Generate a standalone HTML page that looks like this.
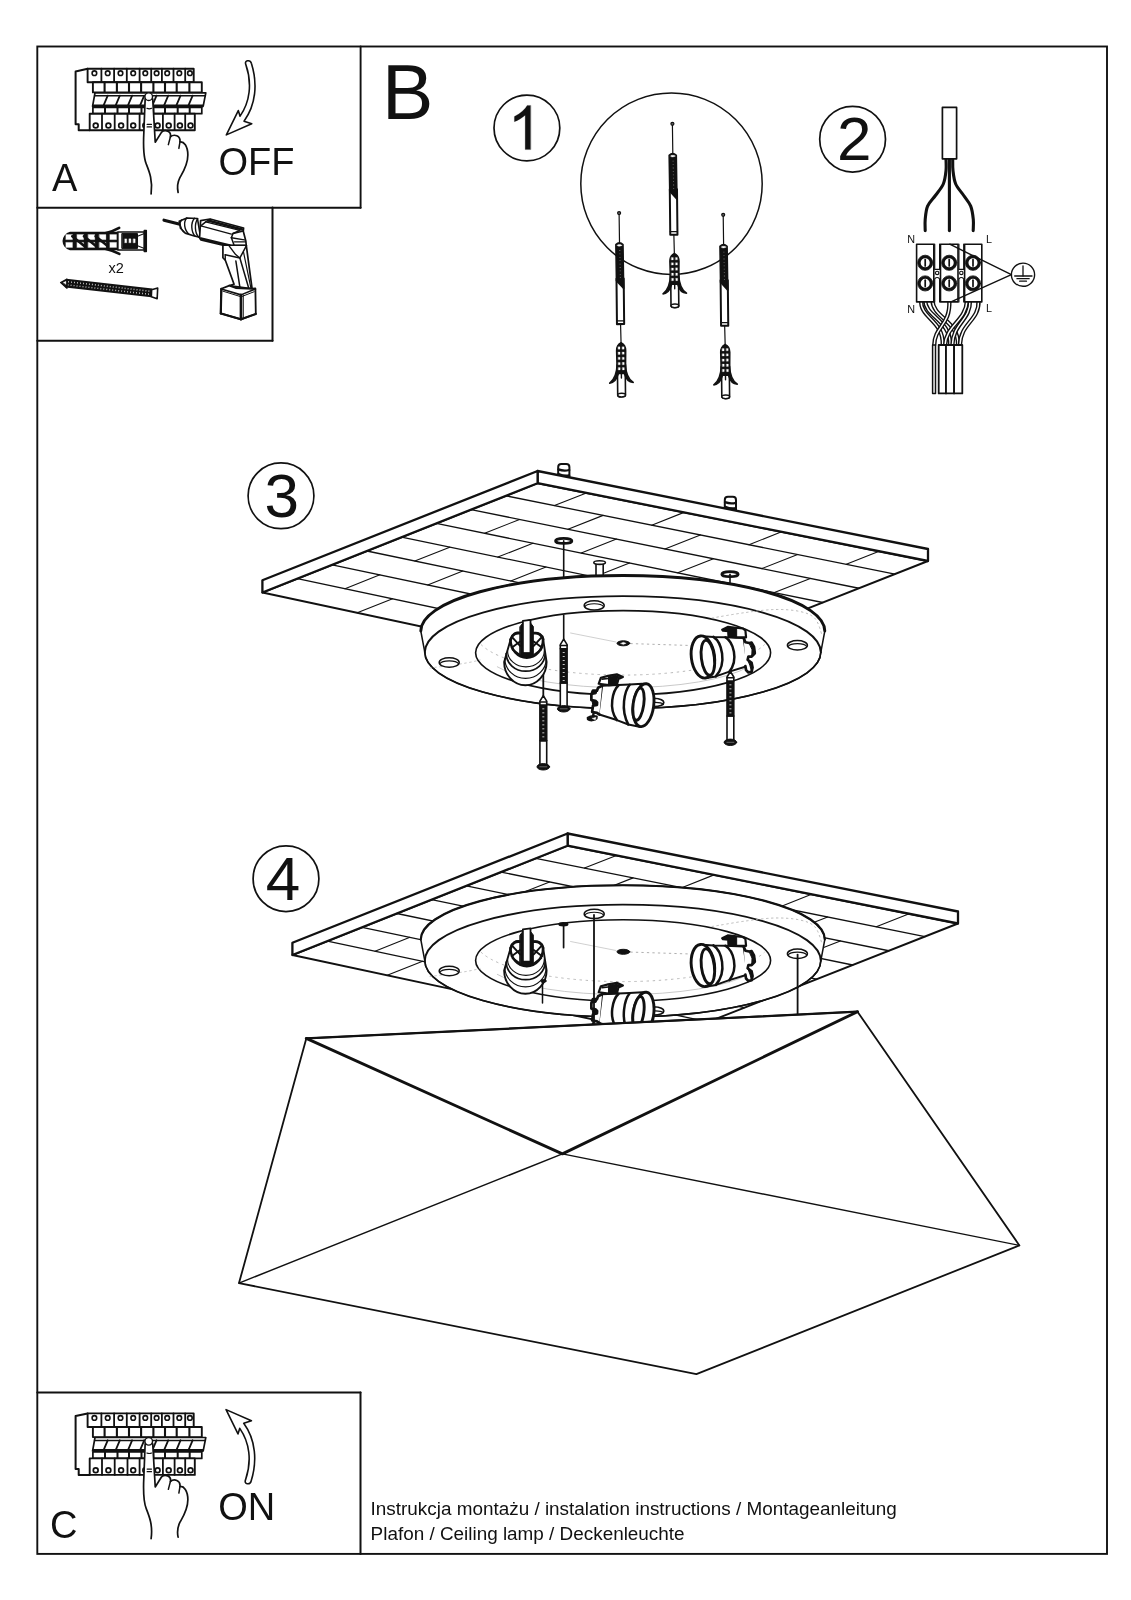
<!DOCTYPE html>
<html><head><meta charset="utf-8"><title>Instrukcja montażu</title>
<style>
html,body{margin:0;padding:0;background:#fff;}
body{width:1131px;height:1600px;overflow:hidden;font-family:"Liberation Sans",sans-serif;}
svg{display:block;}
svg text{font-family:"Liberation Sans",sans-serif;fill:#111;}
</style></head>
<body>
<svg width="1131" height="1600" viewBox="0 0 1131 1600" stroke-linecap="round" stroke-linejoin="round">
<defs><filter id="ga" x="-5%" y="-20%" width="110%" height="140%"><feOffset dx="0" dy="0"/></filter></defs>
<rect x="0" y="0" width="1131" height="1600" fill="#fff"/>
<!-- frame and boxes -->
<rect x="37.30" y="46.50" width="1069.70" height="1507.40" fill="none" stroke="#111" stroke-width="1.9" stroke-linejoin="miter"/>
<line x1="360.60" y1="46.50" x2="360.60" y2="207.70" stroke="#111" stroke-width="1.9" />
<line x1="37.30" y1="207.70" x2="360.60" y2="207.70" stroke="#111" stroke-width="1.9" />
<line x1="272.50" y1="207.60" x2="272.50" y2="340.80" stroke="#111" stroke-width="2.0" />
<line x1="37.30" y1="340.80" x2="272.50" y2="340.80" stroke="#111" stroke-width="2.0" />
<line x1="37.30" y1="1392.60" x2="360.50" y2="1392.60" stroke="#111" stroke-width="2.0" />
<line x1="360.50" y1="1392.60" x2="360.50" y2="1553.90" stroke="#111" stroke-width="2.0" />
<!-- labels -->
<g filter="url(#ga)"><text x="52.00" y="191.00" font-size="38" text-anchor="start" >A</text></g>
<g filter="url(#ga)"><text x="50.10" y="1537.80" font-size="38" text-anchor="start" >C</text></g>
<g filter="url(#ga)"><text x="218.40" y="175.00" font-size="38" text-anchor="start" >OFF</text></g>
<g filter="url(#ga)"><text x="218.20" y="1519.80" font-size="38" text-anchor="start" >ON</text></g>
<g filter="url(#ga)"><text x="381.90" y="119.20" font-size="77" text-anchor="start" >B</text></g>
<g filter="url(#ga)"><text x="108.40" y="272.90" font-size="14.5" text-anchor="start" >x2</text></g>
<circle cx="526.90" cy="128.00" r="32.90" fill="none" stroke="#111" stroke-width="1.7" />
<path d="M530.60,149.60 L525.19,149.60 L525.19,115.16 Q523.24,117.02 520.07,118.88 Q516.91,120.74 514.38,121.67 L514.38,116.45 Q518.92,114.32 522.31,111.28 Q525.71,108.25 527.12,105.40 L530.60,105.40 Z" fill="#111" stroke="#111" stroke-width="0.2" />
<circle cx="852.60" cy="139.20" r="32.90" fill="none" stroke="#111" stroke-width="1.7" />
<g filter="url(#ga)"><text x="837.10" y="160.10" font-size="62" text-anchor="start" >2</text></g>
<circle cx="281.00" cy="495.80" r="32.90" fill="none" stroke="#111" stroke-width="1.7" />
<g filter="url(#ga)"><text x="264.50" y="517.20" font-size="62" text-anchor="start" >3</text></g>
<circle cx="286.00" cy="878.70" r="32.90" fill="none" stroke="#111" stroke-width="1.7" />
<g filter="url(#ga)"><text x="265.70" y="899.50" font-size="62" text-anchor="start" >4</text></g>
<g filter="url(#ga)"><text x="370.60" y="1514.80" font-size="18.9" text-anchor="start" >Instrukcja montażu / instalation instructions / Montageanleitung</text></g>
<g filter="url(#ga)"><text x="370.60" y="1540.00" font-size="18.9" text-anchor="start" >Plafon / Ceiling lamp / Deckenleuchte</text></g>
<!-- box A -->
<g>
<path d="M87.6,68.7 L75.6,71.4 L75.6,124.3 L78.7,124.3 L78.7,130.2 L89.7,130.2" fill="#fff" stroke="#111" stroke-width="2.0" />
<rect x="87.60" y="68.70" width="106.10" height="13.60" fill="#fff" stroke="#111" stroke-width="1.9" />
<line x1="101.40" y1="68.70" x2="101.40" y2="82.30" stroke="#111" stroke-width="1.8" />
<line x1="114.10" y1="68.70" x2="114.10" y2="82.30" stroke="#111" stroke-width="1.8" />
<line x1="126.80" y1="68.70" x2="126.80" y2="82.30" stroke="#111" stroke-width="1.8" />
<line x1="139.60" y1="68.70" x2="139.60" y2="82.30" stroke="#111" stroke-width="1.8" />
<line x1="151.20" y1="68.70" x2="151.20" y2="82.30" stroke="#111" stroke-width="1.8" />
<line x1="161.90" y1="68.70" x2="161.90" y2="82.30" stroke="#111" stroke-width="1.8" />
<line x1="173.50" y1="68.70" x2="173.50" y2="82.30" stroke="#111" stroke-width="1.8" />
<line x1="185.20" y1="68.70" x2="185.20" y2="82.30" stroke="#111" stroke-width="1.8" />
<circle cx="94.40" cy="73.20" r="2.30" fill="none" stroke="#111" stroke-width="1.6" />
<circle cx="107.70" cy="73.20" r="2.30" fill="none" stroke="#111" stroke-width="1.6" />
<circle cx="120.50" cy="73.20" r="2.30" fill="none" stroke="#111" stroke-width="1.6" />
<circle cx="133.20" cy="73.20" r="2.30" fill="none" stroke="#111" stroke-width="1.6" />
<circle cx="145.30" cy="73.20" r="2.30" fill="none" stroke="#111" stroke-width="1.6" />
<circle cx="156.60" cy="73.20" r="2.30" fill="none" stroke="#111" stroke-width="1.6" />
<circle cx="167.20" cy="73.20" r="2.30" fill="none" stroke="#111" stroke-width="1.6" />
<circle cx="179.30" cy="73.20" r="2.30" fill="none" stroke="#111" stroke-width="1.6" />
<circle cx="189.90" cy="73.20" r="2.30" fill="none" stroke="#111" stroke-width="1.6" />
<rect x="92.90" y="82.30" width="108.90" height="10.10" fill="#fff" stroke="#111" stroke-width="1.9" />
<line x1="104.60" y1="82.30" x2="104.60" y2="92.40" stroke="#111" stroke-width="2.1" />
<line x1="116.90" y1="82.30" x2="116.90" y2="92.40" stroke="#111" stroke-width="2.1" />
<line x1="129.00" y1="82.30" x2="129.00" y2="92.40" stroke="#111" stroke-width="2.1" />
<line x1="141.10" y1="82.30" x2="141.10" y2="92.40" stroke="#111" stroke-width="2.1" />
<line x1="153.40" y1="82.30" x2="153.40" y2="92.40" stroke="#111" stroke-width="2.1" />
<line x1="165.00" y1="82.30" x2="165.00" y2="92.40" stroke="#111" stroke-width="2.1" />
<line x1="176.70" y1="82.30" x2="176.70" y2="92.40" stroke="#111" stroke-width="2.1" />
<line x1="189.40" y1="82.30" x2="189.40" y2="92.40" stroke="#111" stroke-width="2.1" />
<path d="M95.00,92.80 L205.80,92.80 L203.20,106.20 L92.60,106.20 Z" fill="#fff" stroke="#111" stroke-width="1.7" />
<line x1="94.60" y1="95.80" x2="205.40" y2="95.80" stroke="#111" stroke-width="1.4" />
<line x1="92.80" y1="105.90" x2="203.20" y2="105.90" stroke="#111" stroke-width="3.0" stroke-linecap="butt"/>
<line x1="107.70" y1="95.60" x2="103.70" y2="105.20" stroke="#111" stroke-width="1.8" />
<line x1="119.80" y1="95.60" x2="115.80" y2="105.20" stroke="#111" stroke-width="1.8" />
<line x1="132.10" y1="95.60" x2="128.10" y2="105.20" stroke="#111" stroke-width="1.8" />
<line x1="144.20" y1="95.60" x2="140.20" y2="105.20" stroke="#111" stroke-width="1.8" />
<line x1="156.50" y1="95.60" x2="152.50" y2="105.20" stroke="#111" stroke-width="1.8" />
<line x1="168.20" y1="95.60" x2="164.20" y2="105.20" stroke="#111" stroke-width="1.8" />
<line x1="180.50" y1="95.60" x2="176.50" y2="105.20" stroke="#111" stroke-width="1.8" />
<line x1="192.60" y1="95.60" x2="188.60" y2="105.20" stroke="#111" stroke-width="1.8" />
<rect x="92.90" y="107.30" width="108.90" height="6.40" fill="#fff" stroke="#111" stroke-width="1.7" />
<line x1="105.00" y1="107.30" x2="105.00" y2="113.70" stroke="#111" stroke-width="2.0" />
<line x1="117.50" y1="107.30" x2="117.50" y2="113.70" stroke="#111" stroke-width="2.0" />
<line x1="129.00" y1="107.30" x2="129.00" y2="113.70" stroke="#111" stroke-width="2.0" />
<line x1="141.50" y1="107.30" x2="141.50" y2="113.70" stroke="#111" stroke-width="2.0" />
<line x1="153.40" y1="107.30" x2="153.40" y2="113.70" stroke="#111" stroke-width="2.0" />
<line x1="165.00" y1="107.30" x2="165.00" y2="113.70" stroke="#111" stroke-width="2.0" />
<line x1="177.70" y1="107.30" x2="177.70" y2="113.70" stroke="#111" stroke-width="2.0" />
<line x1="189.70" y1="107.30" x2="189.70" y2="113.70" stroke="#111" stroke-width="2.0" />
<rect x="89.70" y="113.70" width="105.10" height="16.50" fill="#fff" stroke="#111" stroke-width="1.9" />
<line x1="102.00" y1="113.70" x2="102.00" y2="130.20" stroke="#111" stroke-width="1.8" />
<line x1="114.70" y1="113.70" x2="114.70" y2="130.20" stroke="#111" stroke-width="1.8" />
<line x1="127.50" y1="113.70" x2="127.50" y2="130.20" stroke="#111" stroke-width="1.8" />
<line x1="139.60" y1="113.70" x2="139.60" y2="130.20" stroke="#111" stroke-width="1.8" />
<line x1="152.30" y1="113.70" x2="152.30" y2="130.20" stroke="#111" stroke-width="1.8" />
<line x1="162.90" y1="113.70" x2="162.90" y2="130.20" stroke="#111" stroke-width="1.8" />
<line x1="174.60" y1="113.70" x2="174.60" y2="130.20" stroke="#111" stroke-width="1.8" />
<line x1="185.20" y1="113.70" x2="185.20" y2="130.20" stroke="#111" stroke-width="1.8" />
<circle cx="95.70" cy="125.50" r="2.40" fill="none" stroke="#111" stroke-width="1.7" />
<circle cx="108.40" cy="125.50" r="2.40" fill="none" stroke="#111" stroke-width="1.7" />
<circle cx="121.10" cy="125.50" r="2.40" fill="none" stroke="#111" stroke-width="1.7" />
<circle cx="133.20" cy="125.50" r="2.40" fill="none" stroke="#111" stroke-width="1.7" />
<circle cx="145.30" cy="125.50" r="2.40" fill="none" stroke="#111" stroke-width="1.7" />
<circle cx="157.60" cy="125.50" r="2.40" fill="none" stroke="#111" stroke-width="1.7" />
<circle cx="168.70" cy="125.50" r="2.40" fill="none" stroke="#111" stroke-width="1.7" />
<circle cx="179.90" cy="125.50" r="2.40" fill="none" stroke="#111" stroke-width="1.7" />
<circle cx="190.50" cy="125.50" r="2.40" fill="none" stroke="#111" stroke-width="1.7" />
</g>
<g>
<path d="M151.12,193.96 C152.99,180.47 149.24,171.47 146.24,163.97 C143.24,156.48 143.09,147.48 143.84,132.48 L145.12,99.64 C145.49,95.00 152.24,95.00 152.76,99.64 L155.24,142.23 L161.61,132.11 C164.99,129.11 171.73,130.98 170.38,136.98 C173.98,133.61 180.73,135.48 179.98,141.86 C183.73,141.11 187.85,145.98 187.85,154.98 C187.85,164.72 182.98,172.22 179.98,177.47 C177.36,182.72 176.98,187.22 178.11,192.46" fill="#fff" stroke="#111" stroke-width="1.7" />
<path d="M170.38,136.98 L168.36,144.63" fill="none" stroke="#111" stroke-width="1.5" />
<path d="M179.98,141.86 L178.86,148.38" fill="none" stroke="#111" stroke-width="1.5" />
<circle cx="148.72" cy="96.64" r="3.80" fill="#fff" stroke="#111" stroke-width="1.4" />
<path d="M146.84,108.34 Q149.24,109.39 151.64,108.34" fill="none" stroke="#111" stroke-width="1.1" />
<path d="M147.14,124.39 L151.49,124.39 M147.14,126.94 L151.49,126.94" fill="none" stroke="#111" stroke-width="1.2" />
</g>
<path d="M245.81,64.59 C244.04,60.17 250.23,59.28 251.38,63.26 C257.75,83.60 255.98,104.82 244.04,121.18 L251.73,123.83 L226.36,134.88 L238.29,110.57 L240.06,116.14 C249.79,102.17 252.44,83.60 245.81,64.59 Z" fill="#fff" stroke="#111" stroke-width="1.6" />
<!-- tools -->
<g>
<path d="M105.17,233.25 C111.54,231.98 115.78,229.85 119.18,227.94" fill="none" stroke="#111" stroke-width="2.6" />
<path d="M105.17,248.74 C111.54,250.23 115.78,252.14 119.39,253.83" fill="none" stroke="#111" stroke-width="2.6" />
<path d="M117.90,232.51 L70.16,232.51 C65.92,233.57 63.26,237.81 63.26,240.99 C63.26,244.71 65.92,248.42 70.16,249.48 L117.90,249.48 Z" fill="#111" stroke="#111" stroke-width="1.5" />
<path d="M65.92,234.52 L72.49,234.52 L72.49,239.62 L65.92,239.62 Z" fill="#fff" stroke="#fff" stroke-width="0.3" />
<path d="M65.92,242.37 L72.49,242.37 L72.49,247.47 L65.92,247.47 Z" fill="#fff" stroke="#fff" stroke-width="0.3" />
<path d="M77.06,234.52 L83.63,234.52 L83.63,239.62 L77.06,239.62 Z" fill="#fff" stroke="#fff" stroke-width="0.3" />
<path d="M77.06,242.37 L83.63,242.37 L83.63,247.47 L77.06,247.47 Z" fill="#fff" stroke="#fff" stroke-width="0.3" />
<path d="M88.20,234.52 L94.77,234.52 L94.77,239.62 L88.20,239.62 Z" fill="#fff" stroke="#fff" stroke-width="0.3" />
<path d="M88.20,242.37 L94.77,242.37 L94.77,247.47 L88.20,247.47 Z" fill="#fff" stroke="#fff" stroke-width="0.3" />
<path d="M99.34,234.52 L105.92,234.52 L105.92,239.62 L99.34,239.62 Z" fill="#fff" stroke="#fff" stroke-width="0.3" />
<path d="M99.34,242.37 L105.92,242.37 L105.92,247.47 L99.34,247.47 Z" fill="#fff" stroke="#fff" stroke-width="0.3" />
<path d="M109.95,234.52 L116.53,234.52 L116.53,239.62 L109.95,239.62 Z" fill="#fff" stroke="#fff" stroke-width="0.3" />
<path d="M109.95,242.37 L116.53,242.37 L116.53,247.47 L109.95,247.47 Z" fill="#fff" stroke="#fff" stroke-width="0.3" />
<line x1="72.28" y1="236.22" x2="83.95" y2="245.77" stroke="#111" stroke-width="2.6" />
<line x1="83.95" y1="236.22" x2="95.62" y2="245.77" stroke="#111" stroke-width="2.6" />
<line x1="95.62" y1="236.22" x2="107.29" y2="245.77" stroke="#111" stroke-width="2.6" />
<path d="M117.90,231.98 L144.43,231.98 L144.43,250.01 L117.90,250.01 Z" fill="#fff" stroke="#111" stroke-width="1.5" />
<path d="M122.15,233.57 L137.53,233.57 L137.53,248.42 L122.15,248.42 Z" fill="#111" stroke="#111" stroke-width="1.0" />
<path d="M124.80,238.87 L126.71,238.87 L126.71,242.80 L124.80,242.80 Z" fill="#fff" stroke="#fff" stroke-width="0.3" />
<path d="M129.05,238.87 L130.95,238.87 L130.95,242.80 L129.05,242.80 Z" fill="#fff" stroke="#fff" stroke-width="0.3" />
<path d="M133.29,238.87 L135.20,238.87 L135.20,242.80 L133.29,242.80 Z" fill="#fff" stroke="#fff" stroke-width="0.3" />
<line x1="137.53" y1="236.22" x2="144.43" y2="233.57" stroke="#111" stroke-width="1.1" />
<line x1="137.53" y1="245.77" x2="144.43" y2="248.42" stroke="#111" stroke-width="1.1" />
<path d="M144.22,230.38 L146.34,230.38 L146.34,251.60 L144.22,251.60 Z" fill="#111" stroke="#111" stroke-width="1.4" />
</g>
<g>
<line x1="65.92" y1="283.12" x2="151.86" y2="292.98" stroke="#111" stroke-width="8.8" stroke-linecap="butt"/>
<line x1="67.92" y1="283.32" x2="151.86" y2="292.98" stroke="#fff" stroke-width="4.6" stroke-dasharray="0.7 2.3" stroke-linecap="butt"/>
<line x1="65.92" y1="283.12" x2="151.86" y2="292.98" stroke="#111" stroke-width="1.6" />
<path d="M60.61,282.48 L66.98,279.19 L66.98,288.21 Z" fill="#111" stroke="#111" stroke-width="1.3" />
<path d="M63.26,282.59 L65.92,281.31 L65.92,284.18 Z" fill="#fff" stroke="#fff" stroke-width="0.3" />
<path d="M151.64,289.80 L157.69,288.00 L157.16,298.82 L151.33,296.70 Z" fill="#fff" stroke="#111" stroke-width="1.6" />
</g>
<g>
<line x1="164.02" y1="220.19" x2="179.93" y2="224.32" stroke="#111" stroke-width="3.2" />
<path d="M179.19,221.14 L186.83,217.96 L197.44,218.49 L200.62,237.59 L194.26,235.99 L185.24,233.13 L180.46,228.25 Z" fill="#fff" stroke="#111" stroke-width="1.6" />
<path d="M181.53,220.08 C178.87,222.73 180.46,228.57 183.44,231.75" fill="none" stroke="#111" stroke-width="1.4" />
<path d="M186.83,217.96 C183.12,221.67 184.18,230.16 188.95,234.19" fill="none" stroke="#111" stroke-width="1.4" />
<path d="M194.47,218.28 C190.54,222.73 191.07,232.28 195.32,236.31" fill="none" stroke="#111" stroke-width="1.4" />
<path d="M197.65,218.70 C194.26,223.79 194.79,233.34 198.71,237.16" fill="none" stroke="#111" stroke-width="1.4" />
<path d="M200.62,220.61 L210.17,219.02 L243.59,228.04 L243.28,231.22 L245.82,240.98 L246.25,245.23 L229.27,245.54 L222.90,245.23 L200.84,239.92 L199.56,237.80 Z" fill="#fff" stroke="#111" stroke-width="1.7" />
<path d="M200.84,225.92 L205.72,221.88 L239.88,230.37 L232.98,233.55 L231.39,237.80" fill="none" stroke="#111" stroke-width="1.5" />
<path d="M205.72,221.88 L210.17,219.34" fill="none" stroke="#111" stroke-width="1.4" />
<path d="M200.84,225.92 L231.39,234.19" fill="none" stroke="#111" stroke-width="1.3" />
<path d="M200.84,238.44 L229.80,245.54" fill="none" stroke="#111" stroke-width="2.4" />
<path d="M208.05,220.40 L242.21,229.52" fill="none" stroke="#111" stroke-width="2.6" />
<path d="M232.98,233.55 L243.28,231.01" fill="none" stroke="#111" stroke-width="1.4" />
<path d="M231.39,237.80 L244.34,239.92" fill="none" stroke="#111" stroke-width="1.4" />
<path d="M234.36,241.83 L245.40,241.83" fill="none" stroke="#111" stroke-width="1.4" />
<path d="M231.39,237.80 L234.36,246.07 L236.70,254.56" fill="none" stroke="#111" stroke-width="1.5" />
<path d="M222.90,245.23 L222.90,257.75 L225.24,260.08 L234.05,284.27 L229.27,285.54 L252.08,288.73 L246.25,245.23 Z" fill="#fff" stroke="#111" stroke-width="1.7" />
<path d="M225.24,254.77 L239.88,257.96 L246.46,245.54" fill="none" stroke="#111" stroke-width="1.5" />
<path d="M225.24,254.77 L225.24,260.08" fill="none" stroke="#111" stroke-width="1.4" />
<path d="M229.27,246.07 L235.64,254.56 L239.88,257.96" fill="none" stroke="#111" stroke-width="1.4" />
<path d="M235.85,260.93 L240.09,288.73" fill="none" stroke="#111" stroke-width="1.5" />
<path d="M239.88,257.96 L248.90,288.73" fill="none" stroke="#111" stroke-width="1.5" />
<path d="M243.59,252.44 L251.02,288.73" fill="none" stroke="#111" stroke-width="1.2" />
<path d="M221.31,288.73 L229.27,285.54 L235.64,287.98 L252.08,288.73 L255.37,288.51 L255.80,313.98 L240.94,319.28 L220.78,313.45 Z" fill="#fff" stroke="#111" stroke-width="1.8" />
<path d="M221.31,289.05 L240.94,294.88 L255.37,289.05" fill="none" stroke="#111" stroke-width="1.6" />
<path d="M222.90,291.17 L241.15,296.79 L254.20,291.70" fill="none" stroke="#111" stroke-width="1.0" />
<path d="M240.94,294.88 L240.94,319.28" fill="none" stroke="#111" stroke-width="2.6" />
<path d="M243.28,294.88 L243.28,318.01" fill="none" stroke="#111" stroke-width="1.0" />
<path d="M221.31,288.73 L220.78,313.45" fill="none" stroke="#111" stroke-width="2.2" />
<path d="M220.78,313.45 L240.94,319.28 L255.80,313.98" fill="none" stroke="#111" stroke-width="2.2" />
</g>
<!-- box C -->
<g>
<path d="M87.6,1413.4 L75.6,1416.1000000000001 L75.6,1469.0 L78.7,1469.0 L78.7,1474.9 L89.7,1474.9" fill="#fff" stroke="#111" stroke-width="2.0" />
<rect x="87.60" y="1413.40" width="106.10" height="13.60" fill="#fff" stroke="#111" stroke-width="1.9" />
<line x1="101.40" y1="1413.40" x2="101.40" y2="1427.00" stroke="#111" stroke-width="1.8" />
<line x1="114.10" y1="1413.40" x2="114.10" y2="1427.00" stroke="#111" stroke-width="1.8" />
<line x1="126.80" y1="1413.40" x2="126.80" y2="1427.00" stroke="#111" stroke-width="1.8" />
<line x1="139.60" y1="1413.40" x2="139.60" y2="1427.00" stroke="#111" stroke-width="1.8" />
<line x1="151.20" y1="1413.40" x2="151.20" y2="1427.00" stroke="#111" stroke-width="1.8" />
<line x1="161.90" y1="1413.40" x2="161.90" y2="1427.00" stroke="#111" stroke-width="1.8" />
<line x1="173.50" y1="1413.40" x2="173.50" y2="1427.00" stroke="#111" stroke-width="1.8" />
<line x1="185.20" y1="1413.40" x2="185.20" y2="1427.00" stroke="#111" stroke-width="1.8" />
<circle cx="94.40" cy="1417.90" r="2.30" fill="none" stroke="#111" stroke-width="1.6" />
<circle cx="107.70" cy="1417.90" r="2.30" fill="none" stroke="#111" stroke-width="1.6" />
<circle cx="120.50" cy="1417.90" r="2.30" fill="none" stroke="#111" stroke-width="1.6" />
<circle cx="133.20" cy="1417.90" r="2.30" fill="none" stroke="#111" stroke-width="1.6" />
<circle cx="145.30" cy="1417.90" r="2.30" fill="none" stroke="#111" stroke-width="1.6" />
<circle cx="156.60" cy="1417.90" r="2.30" fill="none" stroke="#111" stroke-width="1.6" />
<circle cx="167.20" cy="1417.90" r="2.30" fill="none" stroke="#111" stroke-width="1.6" />
<circle cx="179.30" cy="1417.90" r="2.30" fill="none" stroke="#111" stroke-width="1.6" />
<circle cx="189.90" cy="1417.90" r="2.30" fill="none" stroke="#111" stroke-width="1.6" />
<rect x="92.90" y="1427.00" width="108.90" height="10.10" fill="#fff" stroke="#111" stroke-width="1.9" />
<line x1="104.60" y1="1427.00" x2="104.60" y2="1437.10" stroke="#111" stroke-width="2.1" />
<line x1="116.90" y1="1427.00" x2="116.90" y2="1437.10" stroke="#111" stroke-width="2.1" />
<line x1="129.00" y1="1427.00" x2="129.00" y2="1437.10" stroke="#111" stroke-width="2.1" />
<line x1="141.10" y1="1427.00" x2="141.10" y2="1437.10" stroke="#111" stroke-width="2.1" />
<line x1="153.40" y1="1427.00" x2="153.40" y2="1437.10" stroke="#111" stroke-width="2.1" />
<line x1="165.00" y1="1427.00" x2="165.00" y2="1437.10" stroke="#111" stroke-width="2.1" />
<line x1="176.70" y1="1427.00" x2="176.70" y2="1437.10" stroke="#111" stroke-width="2.1" />
<line x1="189.40" y1="1427.00" x2="189.40" y2="1437.10" stroke="#111" stroke-width="2.1" />
<path d="M95.00,1437.50 L205.80,1437.50 L203.20,1450.90 L92.60,1450.90 Z" fill="#fff" stroke="#111" stroke-width="1.7" />
<line x1="94.60" y1="1440.50" x2="205.40" y2="1440.50" stroke="#111" stroke-width="1.4" />
<line x1="92.80" y1="1450.60" x2="203.20" y2="1450.60" stroke="#111" stroke-width="3.0" stroke-linecap="butt"/>
<line x1="107.70" y1="1440.30" x2="103.70" y2="1449.90" stroke="#111" stroke-width="1.8" />
<line x1="119.80" y1="1440.30" x2="115.80" y2="1449.90" stroke="#111" stroke-width="1.8" />
<line x1="132.10" y1="1440.30" x2="128.10" y2="1449.90" stroke="#111" stroke-width="1.8" />
<line x1="144.20" y1="1440.30" x2="140.20" y2="1449.90" stroke="#111" stroke-width="1.8" />
<line x1="156.50" y1="1440.30" x2="152.50" y2="1449.90" stroke="#111" stroke-width="1.8" />
<line x1="168.20" y1="1440.30" x2="164.20" y2="1449.90" stroke="#111" stroke-width="1.8" />
<line x1="180.50" y1="1440.30" x2="176.50" y2="1449.90" stroke="#111" stroke-width="1.8" />
<line x1="192.60" y1="1440.30" x2="188.60" y2="1449.90" stroke="#111" stroke-width="1.8" />
<rect x="92.90" y="1452.00" width="108.90" height="6.40" fill="#fff" stroke="#111" stroke-width="1.7" />
<line x1="105.00" y1="1452.00" x2="105.00" y2="1458.40" stroke="#111" stroke-width="2.0" />
<line x1="117.50" y1="1452.00" x2="117.50" y2="1458.40" stroke="#111" stroke-width="2.0" />
<line x1="129.00" y1="1452.00" x2="129.00" y2="1458.40" stroke="#111" stroke-width="2.0" />
<line x1="141.50" y1="1452.00" x2="141.50" y2="1458.40" stroke="#111" stroke-width="2.0" />
<line x1="153.40" y1="1452.00" x2="153.40" y2="1458.40" stroke="#111" stroke-width="2.0" />
<line x1="165.00" y1="1452.00" x2="165.00" y2="1458.40" stroke="#111" stroke-width="2.0" />
<line x1="177.70" y1="1452.00" x2="177.70" y2="1458.40" stroke="#111" stroke-width="2.0" />
<line x1="189.70" y1="1452.00" x2="189.70" y2="1458.40" stroke="#111" stroke-width="2.0" />
<rect x="89.70" y="1458.40" width="105.10" height="16.50" fill="#fff" stroke="#111" stroke-width="1.9" />
<line x1="102.00" y1="1458.40" x2="102.00" y2="1474.90" stroke="#111" stroke-width="1.8" />
<line x1="114.70" y1="1458.40" x2="114.70" y2="1474.90" stroke="#111" stroke-width="1.8" />
<line x1="127.50" y1="1458.40" x2="127.50" y2="1474.90" stroke="#111" stroke-width="1.8" />
<line x1="139.60" y1="1458.40" x2="139.60" y2="1474.90" stroke="#111" stroke-width="1.8" />
<line x1="152.30" y1="1458.40" x2="152.30" y2="1474.90" stroke="#111" stroke-width="1.8" />
<line x1="162.90" y1="1458.40" x2="162.90" y2="1474.90" stroke="#111" stroke-width="1.8" />
<line x1="174.60" y1="1458.40" x2="174.60" y2="1474.90" stroke="#111" stroke-width="1.8" />
<line x1="185.20" y1="1458.40" x2="185.20" y2="1474.90" stroke="#111" stroke-width="1.8" />
<circle cx="95.70" cy="1470.20" r="2.40" fill="none" stroke="#111" stroke-width="1.7" />
<circle cx="108.40" cy="1470.20" r="2.40" fill="none" stroke="#111" stroke-width="1.7" />
<circle cx="121.10" cy="1470.20" r="2.40" fill="none" stroke="#111" stroke-width="1.7" />
<circle cx="133.20" cy="1470.20" r="2.40" fill="none" stroke="#111" stroke-width="1.7" />
<circle cx="145.30" cy="1470.20" r="2.40" fill="none" stroke="#111" stroke-width="1.7" />
<circle cx="157.60" cy="1470.20" r="2.40" fill="none" stroke="#111" stroke-width="1.7" />
<circle cx="168.70" cy="1470.20" r="2.40" fill="none" stroke="#111" stroke-width="1.7" />
<circle cx="179.90" cy="1470.20" r="2.40" fill="none" stroke="#111" stroke-width="1.7" />
<circle cx="190.50" cy="1470.20" r="2.40" fill="none" stroke="#111" stroke-width="1.7" />
</g>
<g>
<path d="M151.12,1538.66 C152.99,1525.17 149.24,1516.17 146.24,1508.67 C143.24,1501.18 143.09,1492.18 143.84,1477.18 L145.12,1444.34 C145.49,1439.70 152.24,1439.70 152.76,1444.34 L155.24,1486.93 L161.61,1476.81 C164.99,1473.81 171.73,1475.68 170.38,1481.68 C173.98,1478.31 180.73,1480.18 179.98,1486.56 C183.73,1485.81 187.85,1490.68 187.85,1499.68 C187.85,1509.42 182.98,1516.92 179.98,1522.17 C177.36,1527.42 176.98,1531.92 178.11,1537.16" fill="#fff" stroke="#111" stroke-width="1.7" />
<path d="M170.38,1481.68 L168.36,1489.33" fill="none" stroke="#111" stroke-width="1.5" />
<path d="M179.98,1486.56 L178.86,1493.08" fill="none" stroke="#111" stroke-width="1.5" />
<circle cx="148.72" cy="1441.34" r="3.80" fill="#fff" stroke="#111" stroke-width="1.4" />
<path d="M146.84,1453.04 Q149.24,1454.09 151.64,1453.04" fill="none" stroke="#111" stroke-width="1.1" />
<path d="M147.14,1469.09 L151.49,1469.09 M147.14,1471.64 L151.49,1471.64" fill="none" stroke="#111" stroke-width="1.2" />
</g>
<g transform="translate(-0.3 1544.5) scale(1 -1)">
<path d="M245.81,64.59 C244.04,60.17 250.23,59.28 251.38,63.26 C257.75,83.60 255.98,104.82 244.04,121.18 L251.73,123.83 L226.36,134.88 L238.29,110.57 L240.06,116.14 C249.79,102.17 252.44,83.60 245.81,64.59 Z" fill="#fff" stroke="#111" stroke-width="1.6" />
</g>
<!-- step 1 -->
<circle cx="671.50" cy="183.70" r="90.70" fill="none" stroke="#111" stroke-width="1.5" />
<g transform="rotate(-0.6 672.4 123.8)">
<circle cx="672.40" cy="123.80" r="1.50" fill="#666" stroke="#111" stroke-width="1.2" />
<line x1="672.40" y1="125.40" x2="672.50" y2="153.80" stroke="#111" stroke-width="1.2" />
<rect x="669.10" y="189.30" width="7.20" height="45.50" fill="#fff" stroke="#111" stroke-width="2.0" />
<line x1="669.10" y1="231.60" x2="676.30" y2="231.60" stroke="#111" stroke-width="1.2" />
<path d="M668.80,155.30 Q672.40,151.60 676.00,155.30 L676.20,199.30 L669.00,191.30 Z" fill="#111" stroke="#111" stroke-width="1.5" />
<ellipse cx="672.40" cy="156.10" rx="2.30" ry="0.80" fill="#fff" stroke="#fff" stroke-width="0.4" />
<line x1="672.70" y1="160.80" x2="673.00" y2="189.30" stroke="#777" stroke-width="1.0" stroke-dasharray="0.8 2.6" stroke-linecap="butt"/>
<line x1="672.70" y1="234.80" x2="673.00" y2="253.30" stroke="#111" stroke-width="1.2" />
<path d="M669.10,283.30 L669.10,305.80 A3.9,1.8 0 0 0 676.90,305.80 L676.90,283.30 Z" fill="#fff" stroke="#111" stroke-width="1.6" />
<ellipse cx="673.00" cy="305.80" rx="3.90" ry="1.80" fill="#fff" stroke="#111" stroke-width="1.4" />
<path d="M668.80,275.30 C668.40,285.30 666.00,290.30 661.20,293.80 C665.00,293.30 668.40,290.30 670.00,284.30 Z" fill="#111" stroke="#111" stroke-width="1.5" />
<path d="M677.20,275.30 C677.60,285.30 680.00,290.30 684.80,293.30 C681.00,293.30 677.60,290.30 676.00,284.30 Z" fill="#111" stroke="#111" stroke-width="1.5" />
<path d="M673.00,253.30 C670.00,254.80 668.40,257.30 668.40,261.30 L668.80,284.30 L677.20,284.30 L677.60,261.30 C677.60,257.30 676.00,254.80 673.00,253.30 Z" fill="#111" stroke="#111" stroke-width="1.4" />
<rect x="670.00" y="257.50" width="1.90" height="2.40" fill="#fff" stroke="#fff" stroke-width="0.2" />
<rect x="674.10" y="257.50" width="1.90" height="2.40" fill="#fff" stroke="#fff" stroke-width="0.2" />
<rect x="670.00" y="262.70" width="1.90" height="2.40" fill="#fff" stroke="#fff" stroke-width="0.2" />
<rect x="674.10" y="262.70" width="1.90" height="2.40" fill="#fff" stroke="#fff" stroke-width="0.2" />
<rect x="670.00" y="267.90" width="1.90" height="2.40" fill="#fff" stroke="#fff" stroke-width="0.2" />
<rect x="674.10" y="267.90" width="1.90" height="2.40" fill="#fff" stroke="#fff" stroke-width="0.2" />
<rect x="670.00" y="273.10" width="1.90" height="2.40" fill="#fff" stroke="#fff" stroke-width="0.2" />
<rect x="674.10" y="273.10" width="1.90" height="2.40" fill="#fff" stroke="#fff" stroke-width="0.2" />
<rect x="670.00" y="278.30" width="1.90" height="2.40" fill="#fff" stroke="#fff" stroke-width="0.2" />
<rect x="674.10" y="278.30" width="1.90" height="2.40" fill="#fff" stroke="#fff" stroke-width="0.2" />
<line x1="673.00" y1="280.30" x2="673.00" y2="288.80" stroke="#111" stroke-width="1.4" />
</g>
<g transform="rotate(-0.6 619.1 213.1)">
<circle cx="619.10" cy="213.10" r="1.50" fill="#666" stroke="#111" stroke-width="1.2" />
<line x1="619.10" y1="214.70" x2="619.20" y2="243.10" stroke="#111" stroke-width="1.2" />
<rect x="615.80" y="278.60" width="7.20" height="45.50" fill="#fff" stroke="#111" stroke-width="2.0" />
<line x1="615.80" y1="320.90" x2="623.00" y2="320.90" stroke="#111" stroke-width="1.2" />
<path d="M615.50,244.60 Q619.10,240.90 622.70,244.60 L622.90,288.60 L615.70,280.60 Z" fill="#111" stroke="#111" stroke-width="1.5" />
<ellipse cx="619.10" cy="245.40" rx="2.30" ry="0.80" fill="#fff" stroke="#fff" stroke-width="0.4" />
<line x1="619.40" y1="250.10" x2="619.70" y2="278.60" stroke="#777" stroke-width="1.0" stroke-dasharray="0.8 2.6" stroke-linecap="butt"/>
<line x1="619.40" y1="324.10" x2="619.70" y2="342.60" stroke="#111" stroke-width="1.2" />
<path d="M615.80,372.60 L615.80,395.10 A3.9,1.8 0 0 0 623.60,395.10 L623.60,372.60 Z" fill="#fff" stroke="#111" stroke-width="1.6" />
<ellipse cx="619.70" cy="395.10" rx="3.90" ry="1.80" fill="#fff" stroke="#111" stroke-width="1.4" />
<path d="M615.50,364.60 C615.10,374.60 612.70,379.60 607.90,383.10 C611.70,382.60 615.10,379.60 616.70,373.60 Z" fill="#111" stroke="#111" stroke-width="1.5" />
<path d="M623.90,364.60 C624.30,374.60 626.70,379.60 631.50,382.60 C627.70,382.60 624.30,379.60 622.70,373.60 Z" fill="#111" stroke="#111" stroke-width="1.5" />
<path d="M619.70,342.60 C616.70,344.10 615.10,346.60 615.10,350.60 L615.50,373.60 L623.90,373.60 L624.30,350.60 C624.30,346.60 622.70,344.10 619.70,342.60 Z" fill="#111" stroke="#111" stroke-width="1.4" />
<rect x="616.70" y="346.80" width="1.90" height="2.40" fill="#fff" stroke="#fff" stroke-width="0.2" />
<rect x="620.80" y="346.80" width="1.90" height="2.40" fill="#fff" stroke="#fff" stroke-width="0.2" />
<rect x="616.70" y="352.00" width="1.90" height="2.40" fill="#fff" stroke="#fff" stroke-width="0.2" />
<rect x="620.80" y="352.00" width="1.90" height="2.40" fill="#fff" stroke="#fff" stroke-width="0.2" />
<rect x="616.70" y="357.20" width="1.90" height="2.40" fill="#fff" stroke="#fff" stroke-width="0.2" />
<rect x="620.80" y="357.20" width="1.90" height="2.40" fill="#fff" stroke="#fff" stroke-width="0.2" />
<rect x="616.70" y="362.40" width="1.90" height="2.40" fill="#fff" stroke="#fff" stroke-width="0.2" />
<rect x="620.80" y="362.40" width="1.90" height="2.40" fill="#fff" stroke="#fff" stroke-width="0.2" />
<rect x="616.70" y="367.60" width="1.90" height="2.40" fill="#fff" stroke="#fff" stroke-width="0.2" />
<rect x="620.80" y="367.60" width="1.90" height="2.40" fill="#fff" stroke="#fff" stroke-width="0.2" />
<line x1="619.70" y1="369.60" x2="619.70" y2="378.10" stroke="#111" stroke-width="1.4" />
</g>
<g transform="rotate(-0.6 723.2 214.8)">
<circle cx="723.20" cy="214.80" r="1.50" fill="#666" stroke="#111" stroke-width="1.2" />
<line x1="723.20" y1="216.40" x2="723.30" y2="244.80" stroke="#111" stroke-width="1.2" />
<rect x="719.90" y="280.30" width="7.20" height="45.50" fill="#fff" stroke="#111" stroke-width="2.0" />
<line x1="719.90" y1="322.60" x2="727.10" y2="322.60" stroke="#111" stroke-width="1.2" />
<path d="M719.60,246.30 Q723.20,242.60 726.80,246.30 L727.00,290.30 L719.80,282.30 Z" fill="#111" stroke="#111" stroke-width="1.5" />
<ellipse cx="723.20" cy="247.10" rx="2.30" ry="0.80" fill="#fff" stroke="#fff" stroke-width="0.4" />
<line x1="723.50" y1="251.80" x2="723.80" y2="280.30" stroke="#777" stroke-width="1.0" stroke-dasharray="0.8 2.6" stroke-linecap="butt"/>
<line x1="723.50" y1="325.80" x2="723.80" y2="344.30" stroke="#111" stroke-width="1.2" />
<path d="M719.90,374.30 L719.90,396.80 A3.9,1.8 0 0 0 727.70,396.80 L727.70,374.30 Z" fill="#fff" stroke="#111" stroke-width="1.6" />
<ellipse cx="723.80" cy="396.80" rx="3.90" ry="1.80" fill="#fff" stroke="#111" stroke-width="1.4" />
<path d="M719.60,366.30 C719.20,376.30 716.80,381.30 712.00,384.80 C715.80,384.30 719.20,381.30 720.80,375.30 Z" fill="#111" stroke="#111" stroke-width="1.5" />
<path d="M728.00,366.30 C728.40,376.30 730.80,381.30 735.60,384.30 C731.80,384.30 728.40,381.30 726.80,375.30 Z" fill="#111" stroke="#111" stroke-width="1.5" />
<path d="M723.80,344.30 C720.80,345.80 719.20,348.30 719.20,352.30 L719.60,375.30 L728.00,375.30 L728.40,352.30 C728.40,348.30 726.80,345.80 723.80,344.30 Z" fill="#111" stroke="#111" stroke-width="1.4" />
<rect x="720.80" y="348.50" width="1.90" height="2.40" fill="#fff" stroke="#fff" stroke-width="0.2" />
<rect x="724.90" y="348.50" width="1.90" height="2.40" fill="#fff" stroke="#fff" stroke-width="0.2" />
<rect x="720.80" y="353.70" width="1.90" height="2.40" fill="#fff" stroke="#fff" stroke-width="0.2" />
<rect x="724.90" y="353.70" width="1.90" height="2.40" fill="#fff" stroke="#fff" stroke-width="0.2" />
<rect x="720.80" y="358.90" width="1.90" height="2.40" fill="#fff" stroke="#fff" stroke-width="0.2" />
<rect x="724.90" y="358.90" width="1.90" height="2.40" fill="#fff" stroke="#fff" stroke-width="0.2" />
<rect x="720.80" y="364.10" width="1.90" height="2.40" fill="#fff" stroke="#fff" stroke-width="0.2" />
<rect x="724.90" y="364.10" width="1.90" height="2.40" fill="#fff" stroke="#fff" stroke-width="0.2" />
<rect x="720.80" y="369.30" width="1.90" height="2.40" fill="#fff" stroke="#fff" stroke-width="0.2" />
<rect x="724.90" y="369.30" width="1.90" height="2.40" fill="#fff" stroke="#fff" stroke-width="0.2" />
<line x1="723.80" y1="371.30" x2="723.80" y2="379.80" stroke="#111" stroke-width="1.4" />
</g>
<g><!-- step 2 wiring -->
<path d="M946.00,158.80 C946.00,160.78 946.45,166.50 946.00,170.70 C945.55,174.90 945.07,179.87 943.30,184.00 C941.53,188.13 938.02,191.82 935.40,195.50 C932.78,199.18 929.30,202.12 927.60,206.10 C925.90,210.08 925.60,215.32 925.20,219.40 C924.80,223.48 925.20,228.73 925.20,230.60" fill="none" stroke="#111" stroke-width="3.1" />
<path d="M949.4,158.8 L949.4,230.6" fill="none" stroke="#111" stroke-width="3.1" />
<path d="M952.70,158.80 C952.75,160.78 952.50,166.50 953.00,170.70 C953.50,174.90 953.92,179.87 955.70,184.00 C957.48,188.13 961.20,191.82 963.70,195.50 C966.20,199.18 969.10,202.12 970.70,206.10 C972.30,210.08 972.88,215.32 973.30,219.40 C973.72,223.48 973.22,228.73 973.20,230.60" fill="none" stroke="#111" stroke-width="3.1" />
<rect x="942.40" y="107.40" width="14.20" height="51.40" fill="#fff" stroke="#111" stroke-width="1.7" />
<path d="M921.22,300.60 C919.89,317.84 943.77,320.49 942.71,345.03" fill="none" stroke="#111" stroke-width="4.3" />
<path d="M921.22,300.60 C919.89,317.84 943.77,320.49 942.71,345.03" fill="none" stroke="#fff" stroke-width="1.5" />
<path d="M925.20,300.60 C925.20,316.51 951.06,320.49 950.13,345.03" fill="none" stroke="#111" stroke-width="4.3" />
<path d="M925.20,300.60 C925.20,316.51 951.06,320.49 950.13,345.03" fill="none" stroke="#fff" stroke-width="1.5" />
<path d="M932.49,300.60 C933.16,317.84 958.36,320.49 958.09,345.03" fill="none" stroke="#111" stroke-width="4.3" />
<path d="M932.49,300.60 C933.16,317.84 958.36,320.49 958.09,345.03" fill="none" stroke="#fff" stroke-width="1.5" />
<path d="M978.51,300.60 C979.58,320.49 960.34,323.14 959.95,345.03" fill="none" stroke="#111" stroke-width="4.3" />
<path d="M978.51,300.60 C979.58,320.49 960.34,323.14 959.95,345.03" fill="none" stroke="#fff" stroke-width="1.5" />
<path d="M970.03,300.60 C970.29,320.49 953.05,323.14 952.39,345.03" fill="none" stroke="#111" stroke-width="4.3" />
<path d="M970.03,300.60 C970.29,320.49 953.05,323.14 952.39,345.03" fill="none" stroke="#fff" stroke-width="1.5" />
<path d="M966.98,300.60 C966.31,320.49 945.76,325.80 945.09,345.03" fill="none" stroke="#111" stroke-width="4.3" />
<path d="M966.98,300.60 C966.31,320.49 945.76,325.80 945.09,345.03" fill="none" stroke="#fff" stroke-width="1.5" />
<path d="M949.34,300.60 C950.40,325.80 934.75,325.80 934.22,345.03" fill="none" stroke="#111" stroke-width="4.3" />
<path d="M949.34,300.60 C950.40,325.80 934.75,325.80 934.22,345.03" fill="none" stroke="#fff" stroke-width="1.5" />
<rect x="932.60" y="345.00" width="2.90" height="48.40" fill="#fff" stroke="#111" stroke-width="1.5" />
<rect x="938.70" y="345.00" width="7.30" height="48.40" fill="#fff" stroke="#111" stroke-width="1.8" />
<rect x="946.00" y="345.00" width="8.10" height="48.40" fill="#fff" stroke="#111" stroke-width="1.8" />
<rect x="954.10" y="345.00" width="8.20" height="48.40" fill="#fff" stroke="#111" stroke-width="1.8" />
<rect x="916.60" y="244.20" width="17.20" height="57.70" fill="#fff" stroke="#111" stroke-width="1.6" />
<rect x="940.50" y="244.20" width="17.50" height="57.70" fill="#fff" stroke="#111" stroke-width="1.6" />
<rect x="964.60" y="244.20" width="17.20" height="57.70" fill="#fff" stroke="#111" stroke-width="1.6" />
<path d="M934.70,244.20 L934.70,269.40 L939.60,269.40 L939.60,244.20" fill="#fff" stroke="#111" stroke-width="1.2" />
<path d="M934.70,301.90 L934.70,278.80 Q937.15,276.20 939.60,278.80 L939.60,301.90" fill="#fff" stroke="#111" stroke-width="1.2" />
<circle cx="937.15" cy="272.90" r="1.70" fill="#fff" stroke="#111" stroke-width="1.1" />
<path d="M958.90,244.20 L958.90,269.40 L963.70,269.40 L963.70,244.20" fill="#fff" stroke="#111" stroke-width="1.2" />
<path d="M958.90,301.90 L958.90,278.80 Q961.30,276.20 963.70,278.80 L963.70,301.90" fill="#fff" stroke="#111" stroke-width="1.2" />
<circle cx="961.30" cy="272.90" r="1.70" fill="#fff" stroke="#111" stroke-width="1.1" />
<circle cx="925.20" cy="262.80" r="6.00" fill="#fff" stroke="#111" stroke-width="2.9" />
<circle cx="925.20" cy="262.80" r="7.60" fill="none" stroke="#111" stroke-width="0.8" />
<line x1="925.20" y1="259.60" x2="925.20" y2="266.00" stroke="#111" stroke-width="1.7" />
<circle cx="925.20" cy="283.40" r="6.00" fill="#fff" stroke="#111" stroke-width="2.9" />
<circle cx="925.20" cy="283.40" r="7.60" fill="none" stroke="#111" stroke-width="0.8" />
<line x1="925.20" y1="280.20" x2="925.20" y2="286.60" stroke="#111" stroke-width="1.7" />
<circle cx="949.20" cy="262.80" r="6.00" fill="#fff" stroke="#111" stroke-width="2.9" />
<circle cx="949.20" cy="262.80" r="7.60" fill="none" stroke="#111" stroke-width="0.8" />
<line x1="949.20" y1="259.60" x2="949.20" y2="266.00" stroke="#111" stroke-width="1.7" />
<circle cx="949.20" cy="283.40" r="6.00" fill="#fff" stroke="#111" stroke-width="2.9" />
<circle cx="949.20" cy="283.40" r="7.60" fill="none" stroke="#111" stroke-width="0.8" />
<line x1="949.20" y1="280.20" x2="949.20" y2="286.60" stroke="#111" stroke-width="1.7" />
<circle cx="973.00" cy="262.80" r="6.00" fill="#fff" stroke="#111" stroke-width="2.9" />
<circle cx="973.00" cy="262.80" r="7.60" fill="none" stroke="#111" stroke-width="0.8" />
<line x1="973.00" y1="259.60" x2="973.00" y2="266.00" stroke="#111" stroke-width="1.7" />
<circle cx="973.00" cy="283.40" r="6.00" fill="#fff" stroke="#111" stroke-width="2.9" />
<circle cx="973.00" cy="283.40" r="7.60" fill="none" stroke="#111" stroke-width="0.8" />
<line x1="973.00" y1="280.20" x2="973.00" y2="286.60" stroke="#111" stroke-width="1.7" />
<circle cx="1023.00" cy="274.70" r="11.60" fill="#fff" stroke="#111" stroke-width="1.4" />
<line x1="1023.00" y1="266.00" x2="1023.00" y2="276.00" stroke="#111" stroke-width="1.3" />
<line x1="1014.70" y1="276.00" x2="1032.00" y2="276.00" stroke="#111" stroke-width="1.3" />
<line x1="1016.90" y1="278.70" x2="1029.20" y2="278.70" stroke="#111" stroke-width="1.2" />
<line x1="1019.60" y1="281.20" x2="1026.50" y2="281.20" stroke="#111" stroke-width="1.2" />
<line x1="1011.40" y1="274.70" x2="949.70" y2="244.20" stroke="#111" stroke-width="1.4" />
<line x1="1011.40" y1="274.70" x2="951.00" y2="301.90" stroke="#111" stroke-width="1.4" />
<g filter="url(#ga)"><text x="907.20" y="243.20" font-size="10.8" text-anchor="start" >N</text></g>
<g filter="url(#ga)"><text x="986.00" y="243.00" font-size="10.8" text-anchor="start" >L</text></g>
<g filter="url(#ga)"><text x="907.20" y="312.60" font-size="10.8" text-anchor="start" >N</text></g>
<g filter="url(#ga)"><text x="986.00" y="312.40" font-size="10.8" text-anchor="start" >L</text></g>
</g>
<!-- ceiling boards -->
<g>
<path d="M558.2,475.4 L558.2,467.1 Q558.2,464.0 561.3,464.0 L566.3,464.0 Q569.4,464.0 569.4,467.1 L569.4,477.8 Z" fill="#fff" stroke="#111" stroke-width="2.0" />
<path d="M558.4,469.4 Q563.8,471.4 569.2,470.0" fill="none" stroke="#111" stroke-width="2.3" />
<path d="M558.6,474.2 Q563.8,476.4 569.0,475.6" fill="none" stroke="#111" stroke-width="2.6" />
<path d="M724.8,508.2 L724.8,499.9 Q724.8,496.8 727.9,496.8 L732.9,496.8 Q736.0,496.8 736.0,499.9 L736.0,510.6 Z" fill="#fff" stroke="#111" stroke-width="2.0" />
<path d="M725.0,502.2 Q730.4,504.2 735.8,502.8" fill="none" stroke="#111" stroke-width="2.3" />
<path d="M725.2,507.0 Q730.4,509.2 735.6,508.4" fill="none" stroke="#111" stroke-width="2.6" />
<path d="M537.60,483.20 L928.00,561.00 L641.70,673.80 L262.40,592.50 Z" fill="#fff" stroke="#111" stroke-width="1.9" />
<path d="M537.60,471.00 L928.00,549.00 L928.00,561.00 L537.60,483.20 Z" fill="#fff" stroke="#111" stroke-width="2.3" />
<path d="M537.60,471.00 L262.40,580.20 L262.40,592.50 L537.60,483.20 Z" fill="#fff" stroke="#111" stroke-width="2.3" />
<line x1="505.81" y1="495.82" x2="894.93" y2="574.03" stroke="#111" stroke-width="1.3" />
<line x1="471.08" y1="509.62" x2="858.80" y2="588.26" stroke="#111" stroke-width="1.3" />
<line x1="436.35" y1="523.41" x2="822.67" y2="602.50" stroke="#111" stroke-width="1.3" />
<line x1="401.62" y1="537.21" x2="786.54" y2="616.73" stroke="#111" stroke-width="1.3" />
<line x1="366.89" y1="551.00" x2="750.41" y2="630.97" stroke="#111" stroke-width="1.3" />
<line x1="332.16" y1="564.79" x2="714.28" y2="645.21" stroke="#111" stroke-width="1.3" />
<line x1="297.43" y1="578.59" x2="678.15" y2="659.44" stroke="#111" stroke-width="1.3" />
<line x1="586.40" y1="492.93" x2="554.45" y2="505.60" stroke="#111" stroke-width="1.1" />
<line x1="684.00" y1="512.38" x2="651.73" y2="525.15" stroke="#111" stroke-width="1.1" />
<line x1="781.60" y1="531.83" x2="749.01" y2="544.70" stroke="#111" stroke-width="1.1" />
<line x1="879.20" y1="551.27" x2="846.29" y2="564.25" stroke="#111" stroke-width="1.1" />
<line x1="603.09" y1="515.38" x2="568.01" y2="529.28" stroke="#111" stroke-width="1.1" />
<line x1="700.37" y1="534.93" x2="664.94" y2="548.94" stroke="#111" stroke-width="1.1" />
<line x1="797.65" y1="554.48" x2="761.87" y2="568.60" stroke="#111" stroke-width="1.1" />
<line x1="519.55" y1="519.45" x2="484.64" y2="533.30" stroke="#111" stroke-width="1.1" />
<line x1="616.48" y1="539.11" x2="581.22" y2="553.07" stroke="#111" stroke-width="1.1" />
<line x1="713.41" y1="558.77" x2="677.80" y2="572.84" stroke="#111" stroke-width="1.1" />
<line x1="810.34" y1="578.43" x2="774.38" y2="592.61" stroke="#111" stroke-width="1.1" />
<line x1="532.93" y1="543.18" x2="497.85" y2="557.09" stroke="#111" stroke-width="1.1" />
<line x1="629.51" y1="562.96" x2="594.08" y2="576.97" stroke="#111" stroke-width="1.1" />
<line x1="726.09" y1="582.73" x2="690.31" y2="596.85" stroke="#111" stroke-width="1.1" />
<line x1="449.74" y1="547.15" x2="414.83" y2="561.00" stroke="#111" stroke-width="1.1" />
<line x1="545.97" y1="567.03" x2="510.71" y2="580.99" stroke="#111" stroke-width="1.1" />
<line x1="642.20" y1="586.91" x2="606.59" y2="600.98" stroke="#111" stroke-width="1.1" />
<line x1="738.42" y1="606.79" x2="702.47" y2="620.97" stroke="#111" stroke-width="1.1" />
<line x1="462.77" y1="570.99" x2="427.69" y2="584.90" stroke="#111" stroke-width="1.1" />
<line x1="558.65" y1="590.98" x2="523.22" y2="605.00" stroke="#111" stroke-width="1.1" />
<line x1="654.53" y1="610.98" x2="618.75" y2="625.10" stroke="#111" stroke-width="1.1" />
<line x1="379.93" y1="574.84" x2="345.02" y2="588.69" stroke="#111" stroke-width="1.1" />
<line x1="475.46" y1="594.95" x2="440.20" y2="608.91" stroke="#111" stroke-width="1.1" />
<line x1="570.98" y1="615.05" x2="535.38" y2="629.12" stroke="#111" stroke-width="1.1" />
<line x1="666.51" y1="635.15" x2="630.56" y2="649.33" stroke="#111" stroke-width="1.1" />
<line x1="392.61" y1="598.80" x2="357.23" y2="612.83" stroke="#111" stroke-width="1.1" />
<line x1="487.79" y1="619.01" x2="452.05" y2="633.15" stroke="#111" stroke-width="1.1" />
<line x1="582.97" y1="639.23" x2="546.88" y2="653.47" stroke="#111" stroke-width="1.1" />
</g>
<g>
<path d="M567.60,845.70 L958.00,923.50 L671.70,1036.30 L292.40,955.00 Z" fill="#fff" stroke="#111" stroke-width="1.9" />
<path d="M567.60,833.50 L958.00,911.50 L958.00,923.50 L567.60,845.70 Z" fill="#fff" stroke="#111" stroke-width="2.3" />
<path d="M567.60,833.50 L292.40,942.70 L292.40,955.00 L567.60,845.70 Z" fill="#fff" stroke="#111" stroke-width="2.3" />
<line x1="535.81" y1="858.32" x2="924.93" y2="936.53" stroke="#111" stroke-width="1.3" />
<line x1="501.08" y1="872.12" x2="888.80" y2="950.76" stroke="#111" stroke-width="1.3" />
<line x1="466.35" y1="885.91" x2="852.67" y2="965.00" stroke="#111" stroke-width="1.3" />
<line x1="431.62" y1="899.71" x2="816.54" y2="979.23" stroke="#111" stroke-width="1.3" />
<line x1="396.89" y1="913.50" x2="780.41" y2="993.47" stroke="#111" stroke-width="1.3" />
<line x1="362.16" y1="927.29" x2="744.28" y2="1007.71" stroke="#111" stroke-width="1.3" />
<line x1="327.43" y1="941.09" x2="708.15" y2="1021.94" stroke="#111" stroke-width="1.3" />
<line x1="616.40" y1="855.42" x2="584.45" y2="868.10" stroke="#111" stroke-width="1.1" />
<line x1="714.00" y1="874.88" x2="681.73" y2="887.65" stroke="#111" stroke-width="1.1" />
<line x1="811.60" y1="894.33" x2="779.01" y2="907.20" stroke="#111" stroke-width="1.1" />
<line x1="909.20" y1="913.77" x2="876.29" y2="926.75" stroke="#111" stroke-width="1.1" />
<line x1="633.09" y1="877.88" x2="598.01" y2="891.78" stroke="#111" stroke-width="1.1" />
<line x1="730.37" y1="897.43" x2="694.94" y2="911.44" stroke="#111" stroke-width="1.1" />
<line x1="827.65" y1="916.98" x2="791.87" y2="931.10" stroke="#111" stroke-width="1.1" />
<line x1="549.55" y1="881.95" x2="514.64" y2="895.80" stroke="#111" stroke-width="1.1" />
<line x1="646.48" y1="901.61" x2="611.22" y2="915.57" stroke="#111" stroke-width="1.1" />
<line x1="743.41" y1="921.27" x2="707.80" y2="935.34" stroke="#111" stroke-width="1.1" />
<line x1="840.34" y1="940.93" x2="804.38" y2="955.11" stroke="#111" stroke-width="1.1" />
<line x1="562.93" y1="905.68" x2="527.85" y2="919.59" stroke="#111" stroke-width="1.1" />
<line x1="659.51" y1="925.46" x2="624.08" y2="939.47" stroke="#111" stroke-width="1.1" />
<line x1="756.09" y1="945.23" x2="720.31" y2="959.35" stroke="#111" stroke-width="1.1" />
<line x1="479.74" y1="909.65" x2="444.83" y2="923.50" stroke="#111" stroke-width="1.1" />
<line x1="575.97" y1="929.53" x2="540.71" y2="943.49" stroke="#111" stroke-width="1.1" />
<line x1="672.20" y1="949.41" x2="636.59" y2="963.48" stroke="#111" stroke-width="1.1" />
<line x1="768.42" y1="969.29" x2="732.47" y2="983.47" stroke="#111" stroke-width="1.1" />
<line x1="492.77" y1="933.49" x2="457.69" y2="947.40" stroke="#111" stroke-width="1.1" />
<line x1="588.65" y1="953.48" x2="553.22" y2="967.50" stroke="#111" stroke-width="1.1" />
<line x1="684.53" y1="973.48" x2="648.75" y2="987.60" stroke="#111" stroke-width="1.1" />
<line x1="409.93" y1="937.34" x2="375.02" y2="951.19" stroke="#111" stroke-width="1.1" />
<line x1="505.46" y1="957.45" x2="470.20" y2="971.41" stroke="#111" stroke-width="1.1" />
<line x1="600.98" y1="977.55" x2="565.38" y2="991.62" stroke="#111" stroke-width="1.1" />
<line x1="696.51" y1="997.65" x2="660.56" y2="1011.83" stroke="#111" stroke-width="1.1" />
<line x1="422.61" y1="961.30" x2="387.23" y2="975.33" stroke="#111" stroke-width="1.1" />
<line x1="517.79" y1="981.51" x2="482.05" y2="995.65" stroke="#111" stroke-width="1.1" />
<line x1="612.97" y1="1001.73" x2="576.88" y2="1015.97" stroke="#111" stroke-width="1.1" />
</g>
<g><!-- ring step 3 -->
<ellipse cx="563.70" cy="540.90" rx="8.20" ry="2.50" fill="#fff" stroke="#111" stroke-width="2.7" />
<line x1="563.70" y1="540.90" x2="563.70" y2="590.90" stroke="#111" stroke-width="1.6" />
<ellipse cx="730.00" cy="574.20" rx="8.20" ry="2.50" fill="#fff" stroke="#111" stroke-width="2.7" />
<line x1="730.00" y1="574.20" x2="730.00" y2="624.20" stroke="#111" stroke-width="1.6" />
<path d="M596.00,563.60 L596.00,576.60 L603.20,576.60 L603.20,563.60" fill="#fff" stroke="#111" stroke-width="1.6" />
<ellipse cx="599.60" cy="562.60" rx="5.80" ry="1.80" fill="#fff" stroke="#111" stroke-width="1.6" />
<path d="M420.80,631.00 A202.0,55.5 0 0 1 824.80,631.00 L820.80,652.30 A198.0,56.2 0 0 1 424.80,652.30 Z" fill="#fff" stroke="#111" stroke-width="1.5" />
<path d="M420.80,631.00 A202.0,55.5 0 0 1 824.80,631.00" fill="none" stroke="#111" stroke-width="2.9" />
<path d="M424.80,652.30 A198.0,56.2 0 0 1 820.80,652.30" fill="none" stroke="#111" stroke-width="1.9" />
<path d="M820.80,652.30 A198.0,56.2 0 0 1 424.80,652.30" fill="none" stroke="#111" stroke-width="1.6" />
<ellipse cx="623.10" cy="652.80" rx="147.50" ry="42.20" fill="#fff" stroke="#111" stroke-width="1.6" />
<path d="M481.30,644.80 A147.5,42.2 0 0 0 764.30,644.80" fill="none" stroke="#b0b0b0" stroke-width="0.9" stroke-dasharray="1.6 4.5"/>
<path d="M497.30,666.80 A135.7,33.8 0 0 0 748.30,666.80" fill="none" stroke="#bbb" stroke-width="0.8" />
<line x1="630.80" y1="643.60" x2="706.80" y2="646.00" stroke="#b0b0b0" stroke-width="1.0" stroke-dasharray="1.5 4"/>
<line x1="570.60" y1="633.00" x2="616.00" y2="642.00" stroke="#c4c4c4" stroke-width="0.8" />
<path d="M712.00,618.00 C717.50,617.10 734.50,614.02 745.00,612.60 C755.50,611.18 765.83,609.68 775.00,609.50 C784.17,609.32 793.33,610.00 800.00,611.50 C806.67,613.00 811.33,614.58 815.00,618.50 C818.67,622.42 820.83,632.25 822.00,635.00" fill="none" stroke="#b0b0b0" stroke-width="0.9" stroke-dasharray="1.5 3.5"/>
<path d="M430.0,668.0 C445.0,666.0 465.0,664.0 480.0,660.0" fill="none" stroke="#b0b0b0" stroke-width="0.8" stroke-dasharray="1.5 3.5"/>
<ellipse cx="623.40" cy="643.30" rx="6.40" ry="2.50" fill="#111" stroke="#111" stroke-width="1" />
<path d="M620.60,643.30 L623.40,642.20 L626.20,643.30 L623.40,644.40 Z" fill="#fff" stroke="#fff" stroke-width="0.3" />
<ellipse cx="449.20" cy="662.50" rx="10.00" ry="4.70" fill="#fff" stroke="#111" stroke-width="1.5" />
<path d="M439.90,663.70 C442.20,659.90 456.20,659.90 458.50,663.70" fill="none" stroke="#111" stroke-width="1.1" />
<ellipse cx="594.20" cy="605.40" rx="10.00" ry="4.70" fill="#fff" stroke="#111" stroke-width="1.5" />
<path d="M584.90,606.60 C587.20,602.80 601.20,602.80 603.50,606.60" fill="none" stroke="#111" stroke-width="1.1" />
<ellipse cx="797.40" cy="645.30" rx="10.00" ry="4.70" fill="#fff" stroke="#111" stroke-width="1.5" />
<path d="M788.10,646.50 C790.40,642.70 804.40,642.70 806.70,646.50" fill="none" stroke="#111" stroke-width="1.1" />
<line x1="563.70" y1="615.40" x2="563.70" y2="640.00" stroke="#111" stroke-width="1.6" />
<line x1="543.30" y1="650.00" x2="543.30" y2="697.00" stroke="#111" stroke-width="1.8" />
<g>
<path d="M510.78,638.90 L504.15,661.89 A21.22,23.43 0 0 0 546.59,661.89 L543.05,638.90 C541.72,634.04 536.86,632.54 534.21,632.89 L519.18,632.89 C516.53,632.27 512.10,634.04 510.78,638.90 Z" fill="#fff" stroke="#111" stroke-width="1.9" />
<path d="M504.85,658.80 A20.69,19.63 0 0 0 546.23,658.80" fill="none" stroke="#111" stroke-width="1.2" />
<path d="M506.18,653.49 A19.45,17.68 0 0 0 545.17,653.49" fill="none" stroke="#111" stroke-width="1.7" />
<path d="M507.51,650.84 A18.39,16.09 0 0 0 544.29,650.84" fill="none" stroke="#111" stroke-width="1.1" />
<path d="M510.51,639.79 A16.27,17.95 0 0 0 543.05,639.79" fill="none" stroke="#111" stroke-width="2.5" />
<path d="M510.78,639.35 C512.10,634.04 516.53,632.54 519.62,633.16 M533.94,633.16 C537.75,632.54 542.17,634.48 543.05,639.35" fill="none" stroke="#111" stroke-width="2.8" />
<line x1="512.10" y1="637.14" x2="520.06" y2="645.98" stroke="#111" stroke-width="1.9" />
<line x1="511.66" y1="647.75" x2="520.06" y2="641.56" stroke="#111" stroke-width="1.9" />
<line x1="512.55" y1="649.51" x2="519.62" y2="654.82" stroke="#111" stroke-width="1.9" />
<line x1="541.72" y1="637.14" x2="533.77" y2="645.98" stroke="#111" stroke-width="1.9" />
<line x1="542.17" y1="647.75" x2="533.77" y2="641.56" stroke="#111" stroke-width="1.9" />
<line x1="541.28" y1="649.51" x2="534.21" y2="654.82" stroke="#111" stroke-width="1.9" />
<path d="M520.06,626.53 L522.89,622.99 L522.89,656.59 L520.06,656.59 Z" fill="#111" stroke="#111" stroke-width="1" />
<path d="M530.50,622.99 L533.32,626.53 L533.32,656.59 L530.50,656.59 Z" fill="#111" stroke="#111" stroke-width="1" />
<path d="M522.89,620.78 L530.50,619.89 L530.50,653.05 L522.89,653.05 Z" fill="#fff" stroke="#111" stroke-width="1.8" />
<path d="M522.89,653.05 L530.50,653.05 L530.50,657.03 L522.89,657.03 Z" fill="#111" stroke="#111" stroke-width="1" />
</g>
<g>
<path d="M702.68,636.17 L713.42,636.88 L725.36,637.28 L743.66,638.08 L747.64,665.93 L729.34,671.66 L715.81,676.43 L706.66,678.02 Z" fill="#fff" stroke="#111" stroke-width="2.0" />
<ellipse cx="702.92" cy="657.01" rx="11.60" ry="21.20" fill="#fff" stroke="#111" stroke-width="2.9" transform="rotate(-7 702.92 657.01)"/>
<ellipse cx="707.85" cy="657.81" rx="6.50" ry="17.60" fill="#fff" stroke="#111" stroke-width="2.9" transform="rotate(-7 707.85 657.81)"/>
<path d="M713.42,636.88 C721.38,642.05 727.74,662.74 715.81,676.43" fill="none" stroke="#111" stroke-width="2.5" />
<path d="M725.36,637.28 C733.31,642.05 738.88,659.56 729.34,671.66" fill="none" stroke="#111" stroke-width="2.5" />
<path d="M743.66,638.08 L745.41,642.21 L749.23,643.01 L751.62,642.53 L754.00,646.83 L754.80,653.20 L751.62,656.54 L748.43,656.54 L747.64,659.72 L751.62,662.90 L752.57,667.52 L751.62,671.66 L748.43,672.45 L746.05,670.06 L745.41,666.09" fill="#fff" stroke="#111" stroke-width="2.7" />
<path d="M749.39,643.01 L751.62,642.53 L754.00,646.83 L754.80,653.20 L751.78,656.38 L752.01,650.01 Z" fill="#111" stroke="#111" stroke-width="1.0" />
<path d="M747.80,659.72 L751.62,662.90 L752.57,667.52 L751.62,671.66 L750.02,665.93 Z" fill="#111" stroke="#111" stroke-width="1.0" />
<path d="M722.17,629.80 L727.74,626.94 L742.86,628.53 L745.41,630.28 L746.05,637.44 L735.70,637.44 L728.54,636.64 L728.22,631.07 L722.97,630.60 Z" fill="#fff" stroke="#111" stroke-width="2.2" />
<path d="M722.97,630.12 L727.74,627.10 L736.66,628.05 L736.66,637.12 L728.54,636.64 L728.22,631.07 Z" fill="#111" stroke="#111" stroke-width="1.0" />
</g>
<rect x="560.30" y="683.00" width="6.80" height="24.80" fill="#fff" stroke="#111" stroke-width="1.6" />
<rect x="560.30" y="648.70" width="6.80" height="34.30" fill="#111" stroke="#111" stroke-width="1.6" />
<line x1="563.70" y1="652.20" x2="563.70" y2="681.00" stroke="#fff" stroke-width="2.0" stroke-dasharray="0.7 3.3" stroke-linecap="butt"/>
<path d="M560.30,648.70 L560.30,644.70 L563.70,639.20 L567.10,644.70 L567.10,648.70 Z" fill="#fff" stroke="#111" stroke-width="1.6" />
<line x1="560.30" y1="645.50" x2="567.10" y2="645.50" stroke="#111" stroke-width="1.5" />
<ellipse cx="563.70" cy="708.80" rx="6.30" ry="3.20" fill="#111" stroke="#111" stroke-width="1.0" />
<line x1="560.20" y1="708.80" x2="567.20" y2="708.80" stroke="#888" stroke-width="0.7" />
<rect x="539.90" y="740.60" width="6.80" height="25.20" fill="#fff" stroke="#111" stroke-width="1.6" />
<rect x="539.90" y="705.10" width="6.80" height="35.50" fill="#111" stroke="#111" stroke-width="1.6" />
<line x1="543.30" y1="708.60" x2="543.30" y2="738.60" stroke="#fff" stroke-width="2.0" stroke-dasharray="0.7 3.3" stroke-linecap="butt"/>
<path d="M539.90,705.10 L539.90,701.10 L543.30,695.60 L546.70,701.10 L546.70,705.10 Z" fill="#fff" stroke="#111" stroke-width="1.6" />
<line x1="539.90" y1="701.90" x2="546.70" y2="701.90" stroke="#111" stroke-width="1.5" />
<ellipse cx="543.30" cy="766.80" rx="6.30" ry="3.20" fill="#111" stroke="#111" stroke-width="1.0" />
<line x1="539.80" y1="766.80" x2="546.80" y2="766.80" stroke="#888" stroke-width="0.7" />
<rect x="727.00" y="716.00" width="6.80" height="25.30" fill="#fff" stroke="#111" stroke-width="1.6" />
<rect x="727.00" y="681.00" width="6.80" height="35.00" fill="#111" stroke="#111" stroke-width="1.6" />
<line x1="730.40" y1="684.50" x2="730.40" y2="714.00" stroke="#fff" stroke-width="2.0" stroke-dasharray="0.7 3.3" stroke-linecap="butt"/>
<path d="M727.00,681.00 L727.00,677.00 L730.40,671.50 L733.80,677.00 L733.80,681.00 Z" fill="#fff" stroke="#111" stroke-width="1.6" />
<line x1="727.00" y1="677.80" x2="733.80" y2="677.80" stroke="#111" stroke-width="1.5" />
<ellipse cx="730.40" cy="742.30" rx="6.30" ry="3.20" fill="#111" stroke="#111" stroke-width="1.0" />
<line x1="726.90" y1="742.30" x2="733.90" y2="742.30" stroke="#888" stroke-width="0.7" />
<g>
<path d="M653.43,698.26 C659.00,698.42 663.78,700.01 663.78,702.40 C663.78,705.18 659.00,706.38 653.43,706.54 Z" fill="#fff" stroke="#111" stroke-width="1.7" />
<path d="M655.02,702.40 C659.00,702.56 662.19,703.04 663.38,704.15" fill="none" stroke="#111" stroke-width="1.1" />
<path d="M602.11,685.85 L618.42,685.05 L629.56,684.58 L642.29,683.78 L640.70,726.91 L628.37,724.52 L616.83,720.06 L598.53,714.18 Z" fill="#fff" stroke="#111" stroke-width="2.0" />
<ellipse cx="643.49" cy="705.18" rx="10.20" ry="21.60" fill="#fff" stroke="#111" stroke-width="2.9" transform="rotate(8 643.49 705.18)"/>
<ellipse cx="638.47" cy="704.15" rx="5.30" ry="16.20" fill="#fff" stroke="#111" stroke-width="2.9" transform="rotate(8 638.47 704.15)"/>
<path d="M629.72,684.73 C624.79,690.46 620.01,709.56 628.37,724.52" fill="none" stroke="#111" stroke-width="2.5" />
<path d="M618.58,685.21 C612.85,690.46 608.08,707.97 616.83,720.06" fill="none" stroke="#111" stroke-width="2.5" />
<path d="M602.11,685.85 L598.13,687.68 L596.94,690.62 L592.96,690.62 L591.37,694.60 L591.37,700.01 L595.34,700.81 L597.10,702.56 L596.94,704.95 L592.96,705.74 L592.16,711.95 L596.94,712.90 L599.32,714.49" fill="#fff" stroke="#111" stroke-width="2.7" />
<path d="M592.96,690.62 L596.94,690.62 L596.14,693.81 L591.68,694.60 Z" fill="#111" stroke="#111" stroke-width="1.0" />
<path d="M591.68,700.01 L595.34,700.81 L596.94,704.79 L592.96,705.74 L592.32,702.40 Z" fill="#111" stroke="#111" stroke-width="1.0" />
<path d="M598.69,683.78 L600.91,677.73 L608.08,675.82 L616.83,674.23 L622.88,676.94 L618.42,679.00 L616.99,684.58 L608.87,685.05 Z" fill="#fff" stroke="#111" stroke-width="2.2" />
<path d="M608.87,676.78 L616.83,675.19 L620.01,676.94 L617.15,679.00 L616.99,684.58 L608.87,685.05 Z" fill="#111" stroke="#111" stroke-width="1.0" />
<path d="M602.11,679.16 L608.24,678.53" fill="none" stroke="#111" stroke-width="1.6" />
<path d="M587.39,717.68 C589.77,715.93 594.55,715.61 597.10,716.09 L596.94,718.47 C594.55,721.10 589.77,721.34 587.55,719.43 Z" fill="#111" stroke="#111" stroke-width="1.4" />
<path d="M592.32,718.16 L595.98,717.52 L595.19,719.75 Z" fill="#fff" stroke="#fff" stroke-width="0.5" />
<path d="M593.75,712.74 L592.96,716.32" fill="none" stroke="#111" stroke-width="2.4" />
</g>
</g>
<g><!-- ring step 4 -->
<path d="M420.80,939.50 A202.0,54.3 0 0 1 824.80,939.50 L820.80,960.80 A198.0,56.2 0 0 1 424.80,960.80 Z" fill="#fff" stroke="#111" stroke-width="1.5" />
<path d="M420.80,939.50 A202.0,54.3 0 0 1 824.80,939.50" fill="none" stroke="#111" stroke-width="2.2" />
<path d="M424.80,960.80 A198.0,56.2 0 0 1 820.80,960.80" fill="none" stroke="#111" stroke-width="1.9" />
<path d="M820.80,960.80 A198.0,56.2 0 0 1 424.80,960.80" fill="none" stroke="#111" stroke-width="1.6" />
<ellipse cx="623.10" cy="960.40" rx="147.50" ry="40.70" fill="#fff" stroke="#111" stroke-width="1.6" />
<path d="M481.30,952.40 A147.5,40.7 0 0 0 764.30,952.40" fill="none" stroke="#b0b0b0" stroke-width="0.9" stroke-dasharray="1.6 4.5"/>
<path d="M497.30,974.40 A135.7,32.6 0 0 0 748.30,974.40" fill="none" stroke="#bbb" stroke-width="0.8" />
<line x1="630.80" y1="952.10" x2="706.80" y2="954.50" stroke="#b0b0b0" stroke-width="1.0" stroke-dasharray="1.5 4"/>
<line x1="570.60" y1="941.50" x2="616.00" y2="950.50" stroke="#c4c4c4" stroke-width="0.8" />
<path d="M712.00,926.50 C717.50,925.60 734.50,922.52 745.00,921.10 C755.50,919.68 765.83,918.18 775.00,918.00 C784.17,917.82 793.33,918.50 800.00,920.00 C806.67,921.50 811.33,923.08 815.00,927.00 C818.67,930.92 820.83,940.75 822.00,943.50" fill="none" stroke="#b0b0b0" stroke-width="0.9" stroke-dasharray="1.5 3.5"/>
<path d="M430.0,976.5 C445.0,974.5 465.0,972.5 480.0,968.5" fill="none" stroke="#b0b0b0" stroke-width="0.8" stroke-dasharray="1.5 3.5"/>
<ellipse cx="623.40" cy="951.80" rx="6.40" ry="2.50" fill="#111" stroke="#111" stroke-width="1" />
<ellipse cx="449.20" cy="971.00" rx="10.00" ry="4.70" fill="#fff" stroke="#111" stroke-width="1.5" />
<path d="M439.90,972.20 C442.20,968.40 456.20,968.40 458.50,972.20" fill="none" stroke="#111" stroke-width="1.1" />
<ellipse cx="594.20" cy="913.90" rx="10.00" ry="4.70" fill="#fff" stroke="#111" stroke-width="1.5" />
<path d="M584.90,915.10 C587.20,911.30 601.20,911.30 603.50,915.10" fill="none" stroke="#111" stroke-width="1.1" />
<ellipse cx="797.40" cy="953.80" rx="10.00" ry="4.70" fill="#fff" stroke="#111" stroke-width="1.5" />
<path d="M788.10,955.00 C790.40,951.20 804.40,951.20 806.70,955.00" fill="none" stroke="#111" stroke-width="1.1" />
<g>
<path d="M510.78,947.40 L504.15,970.39 A21.22,23.43 0 0 0 546.59,970.39 L543.05,947.40 C541.72,942.54 536.86,941.04 534.21,941.39 L519.18,941.39 C516.53,940.77 512.10,942.54 510.78,947.40 Z" fill="#fff" stroke="#111" stroke-width="1.9" />
<path d="M504.85,967.30 A20.69,19.63 0 0 0 546.23,967.30" fill="none" stroke="#111" stroke-width="1.2" />
<path d="M506.18,961.99 A19.45,17.68 0 0 0 545.17,961.99" fill="none" stroke="#111" stroke-width="1.7" />
<path d="M507.51,959.34 A18.39,16.09 0 0 0 544.29,959.34" fill="none" stroke="#111" stroke-width="1.1" />
<path d="M510.51,948.29 A16.27,17.95 0 0 0 543.05,948.29" fill="none" stroke="#111" stroke-width="2.5" />
<path d="M510.78,947.85 C512.10,942.54 516.53,941.04 519.62,941.66 M533.94,941.66 C537.75,941.04 542.17,942.98 543.05,947.85" fill="none" stroke="#111" stroke-width="2.8" />
<line x1="512.10" y1="945.64" x2="520.06" y2="954.48" stroke="#111" stroke-width="1.9" />
<line x1="511.66" y1="956.25" x2="520.06" y2="950.06" stroke="#111" stroke-width="1.9" />
<line x1="512.55" y1="958.01" x2="519.62" y2="963.32" stroke="#111" stroke-width="1.9" />
<line x1="541.72" y1="945.64" x2="533.77" y2="954.48" stroke="#111" stroke-width="1.9" />
<line x1="542.17" y1="956.25" x2="533.77" y2="950.06" stroke="#111" stroke-width="1.9" />
<line x1="541.28" y1="958.01" x2="534.21" y2="963.32" stroke="#111" stroke-width="1.9" />
<path d="M520.06,935.03 L522.89,931.49 L522.89,965.09 L520.06,965.09 Z" fill="#111" stroke="#111" stroke-width="1" />
<path d="M530.50,931.49 L533.32,935.03 L533.32,965.09 L530.50,965.09 Z" fill="#111" stroke="#111" stroke-width="1" />
<path d="M522.89,929.28 L530.50,928.39 L530.50,961.55 L522.89,961.55 Z" fill="#fff" stroke="#111" stroke-width="1.8" />
<path d="M522.89,961.55 L530.50,961.55 L530.50,965.53 L522.89,965.53 Z" fill="#111" stroke="#111" stroke-width="1" />
</g>
<g>
<path d="M702.68,944.67 L713.42,945.38 L725.36,945.78 L743.66,946.58 L747.64,974.43 L729.34,980.16 L715.81,984.93 L706.66,986.52 Z" fill="#fff" stroke="#111" stroke-width="2.0" />
<ellipse cx="702.92" cy="965.51" rx="11.60" ry="21.20" fill="#fff" stroke="#111" stroke-width="2.9" transform="rotate(-7 702.92 965.51)"/>
<ellipse cx="707.85" cy="966.31" rx="6.50" ry="17.60" fill="#fff" stroke="#111" stroke-width="2.9" transform="rotate(-7 707.85 966.31)"/>
<path d="M713.42,945.38 C721.38,950.55 727.74,971.24 715.81,984.93" fill="none" stroke="#111" stroke-width="2.5" />
<path d="M725.36,945.78 C733.31,950.55 738.88,968.06 729.34,980.16" fill="none" stroke="#111" stroke-width="2.5" />
<path d="M743.66,946.58 L745.41,950.71 L749.23,951.51 L751.62,951.03 L754.00,955.33 L754.80,961.70 L751.62,965.04 L748.43,965.04 L747.64,968.22 L751.62,971.40 L752.57,976.02 L751.62,980.16 L748.43,980.95 L746.05,978.56 L745.41,974.59" fill="#fff" stroke="#111" stroke-width="2.7" />
<path d="M749.39,951.51 L751.62,951.03 L754.00,955.33 L754.80,961.70 L751.78,964.88 L752.01,958.51 Z" fill="#111" stroke="#111" stroke-width="1.0" />
<path d="M747.80,968.22 L751.62,971.40 L752.57,976.02 L751.62,980.16 L750.02,974.43 Z" fill="#111" stroke="#111" stroke-width="1.0" />
<path d="M722.17,938.30 L727.74,935.44 L742.86,937.03 L745.41,938.78 L746.05,945.94 L735.70,945.94 L728.54,945.14 L728.22,939.57 L722.97,939.10 Z" fill="#fff" stroke="#111" stroke-width="2.2" />
<path d="M722.97,938.62 L727.74,935.60 L736.66,936.55 L736.66,945.62 L728.54,945.14 L728.22,939.57 Z" fill="#111" stroke="#111" stroke-width="1.0" />
</g>
<ellipse cx="563.40" cy="924.20" rx="4.40" ry="1.50" fill="#111" stroke="#111" stroke-width="1.4" />
<line x1="563.60" y1="924.40" x2="563.60" y2="947.60" stroke="#111" stroke-width="1.7" />
<line x1="542.50" y1="981.50" x2="542.50" y2="1003.00" stroke="#111" stroke-width="1.5" />
<ellipse cx="543.50" cy="981.00" rx="2.60" ry="1.50" fill="#111" stroke="#111" stroke-width="1.0" />
<g>
<path d="M653.43,1006.76 C659.00,1006.92 663.78,1008.51 663.78,1010.90 C663.78,1013.68 659.00,1014.88 653.43,1015.04 Z" fill="#fff" stroke="#111" stroke-width="1.7" />
<path d="M655.02,1010.90 C659.00,1011.06 662.19,1011.54 663.38,1012.65" fill="none" stroke="#111" stroke-width="1.1" />
<path d="M602.11,994.35 L618.42,993.55 L629.56,993.08 L642.29,992.28 L640.70,1035.41 L628.37,1033.02 L616.83,1028.56 L598.53,1022.68 Z" fill="#fff" stroke="#111" stroke-width="2.0" />
<ellipse cx="643.49" cy="1013.68" rx="10.20" ry="21.60" fill="#fff" stroke="#111" stroke-width="2.9" transform="rotate(8 643.49 1013.68)"/>
<ellipse cx="638.47" cy="1012.65" rx="5.30" ry="16.20" fill="#fff" stroke="#111" stroke-width="2.9" transform="rotate(8 638.47 1012.65)"/>
<path d="M629.72,993.23 C624.79,998.96 620.01,1018.06 628.37,1033.02" fill="none" stroke="#111" stroke-width="2.5" />
<path d="M618.58,993.71 C612.85,998.96 608.08,1016.47 616.83,1028.56" fill="none" stroke="#111" stroke-width="2.5" />
<path d="M602.11,994.35 L598.13,996.18 L596.94,999.12 L592.96,999.12 L591.37,1003.10 L591.37,1008.51 L595.34,1009.31 L597.10,1011.06 L596.94,1013.45 L592.96,1014.24 L592.16,1020.45 L596.94,1021.40 L599.32,1022.99" fill="#fff" stroke="#111" stroke-width="2.7" />
<path d="M592.96,999.12 L596.94,999.12 L596.14,1002.31 L591.68,1003.10 Z" fill="#111" stroke="#111" stroke-width="1.0" />
<path d="M591.68,1008.51 L595.34,1009.31 L596.94,1013.29 L592.96,1014.24 L592.32,1010.90 Z" fill="#111" stroke="#111" stroke-width="1.0" />
<path d="M598.69,992.28 L600.91,986.23 L608.08,984.32 L616.83,982.73 L622.88,985.44 L618.42,987.50 L616.99,993.08 L608.87,993.55 Z" fill="#fff" stroke="#111" stroke-width="2.2" />
<path d="M608.87,985.28 L616.83,983.69 L620.01,985.44 L617.15,987.50 L616.99,993.08 L608.87,993.55 Z" fill="#111" stroke="#111" stroke-width="1.0" />
<path d="M602.11,987.66 L608.24,987.03" fill="none" stroke="#111" stroke-width="1.6" />
<path d="M587.39,1026.18 C589.77,1024.43 594.55,1024.11 597.10,1024.59 L596.94,1026.97 C594.55,1029.60 589.77,1029.84 587.55,1027.93 Z" fill="#111" stroke="#111" stroke-width="1.4" />
<path d="M592.32,1026.66 L595.98,1026.02 L595.19,1028.25 Z" fill="#fff" stroke="#fff" stroke-width="0.5" />
<path d="M593.75,1021.24 L592.96,1024.82" fill="none" stroke="#111" stroke-width="2.4" />
</g>
<line x1="594.00" y1="914.90" x2="594.00" y2="1023.00" stroke="#111" stroke-width="1.8" />
<line x1="797.60" y1="954.60" x2="797.60" y2="1014.00" stroke="#111" stroke-width="1.8" />
</g>
<!-- lamp shade -->
<path d="M306.30,1038.40 L857.50,1011.70 L1019.40,1245.40 L696.40,1374.20 L239.00,1283.10 Z" fill="#fff" stroke="#111" stroke-width="1.8" />
<line x1="239.00" y1="1283.10" x2="562.40" y2="1153.90" stroke="#111" stroke-width="1.45" />
<line x1="562.40" y1="1153.90" x2="1019.40" y2="1245.40" stroke="#111" stroke-width="1.45" />
<path d="M306.30,1038.40 L562.40,1153.90 L857.50,1011.70" fill="none" stroke="#111" stroke-width="2.9" />
<line x1="306.30" y1="1038.40" x2="857.50" y2="1011.70" stroke="#111" stroke-width="2.2" />
</svg>
</body></html>
